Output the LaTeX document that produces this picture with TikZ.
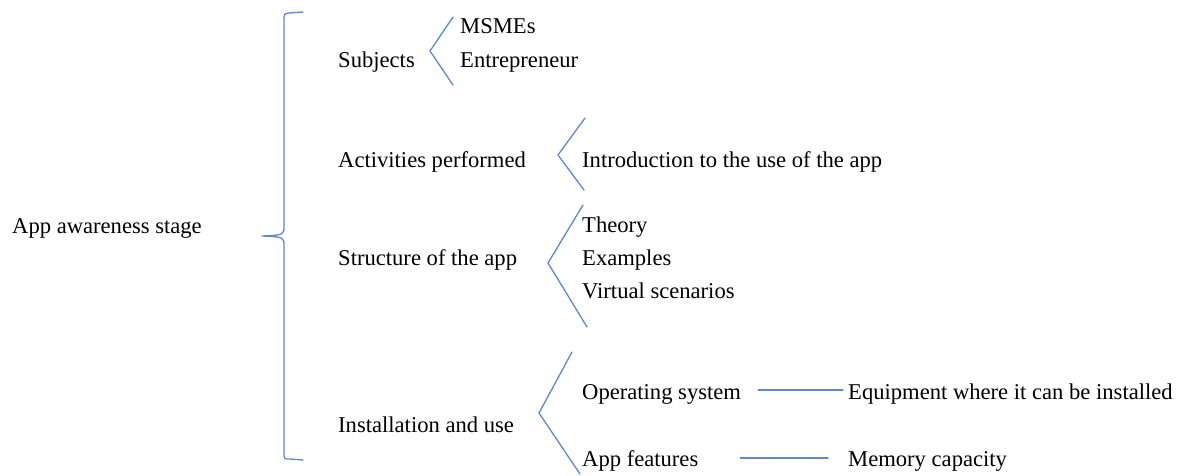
\documentclass[tikz,border=0pt]{standalone}
\usepackage{fontspec}
\setmainfont{Liberation Serif}
\usetikzlibrary{positioning}
\definecolor{bracketblue}{RGB}{96,134,204}
\tikzset{
  lbl/.style={anchor=base west,inner sep=0pt,font=\fontsize{22.6}{26}\selectfont},
  brk/.style={draw=bracketblue,line width=1.3pt,line join=round,line cap=round}
}

\begin{document}
\begin{tikzpicture}[x=1pt,y=-1pt]
\useasboundingbox (0,0) rectangle (1181,475);
% root and the big brace
\node[lbl] (root) at (12,233) {App awareness stage};
\coordinate (bt) at (303,12);
\coordinate (bm) at (262,236);
\coordinate (bb) at (303,460);
\draw[brk] (bt) -- (289,13) .. controls (284,14) .. (284,20) -- (284,226)
  .. controls (284,235) .. (bm) .. controls (284,237) .. (284,246) -- (284,452)
  .. controls (284,459) .. (290,459) -- (bb);
% first level
\node[lbl] (subj) at (338,67) {Subjects};
\node[lbl] (act) at (338,167) {Activities performed};
\node[lbl] (struct) at (338,265) {Structure of the app};
\node[lbl] (inst) at (338,432) {Installation and use};
% subjects
\node[lbl] (msme) at (460,33) {MSMEs};
\node[lbl] (entr) at (460,67) {Entrepreneur};
\coordinate (s1) at (453,17); \coordinate (s2) at (430,51); \coordinate (s3) at (453,85);
\draw[brk] (s1) -- (s2) -- (s3);
% activities
\node[lbl] (intro) at (582,167) {Introduction to the use of the app};
\coordinate (a1) at (585,118); \coordinate (a2) at (558,155); \coordinate (a3) at (584,190);
\draw[brk] (a1) -- (a2) -- (a3);
% structure
\node[lbl] (theo) at (582,232) {Theory};
\node[lbl] (exam) at (582,265) {Examples};
\node[lbl] (virt) at (582,298) {Virtual scenarios};
\coordinate (t1) at (583,205); \coordinate (t2) at (548,263); \coordinate (t3) at (587,327);
\draw[brk] (t1) -- (t2) -- (t3);
% installation
\node[lbl] (opsys) at (582,399) {Operating system};
\node[lbl] (feat) at (582,466) {App features};
\coordinate (i1) at (572,352); \coordinate (i2) at (539,413); \coordinate (i3) at (580,474);
\draw[brk] (i1) -- (i2) -- (i3);
\node[lbl] (equip) at (848,399) {Equipment where it can be installed};
\node[lbl] (mem) at (848,466) {Memory capacity};
\draw[brk,shorten <=17pt,shorten >=5pt] (opsys.east |- 0,390) -- (equip.west |- 0,390);
\draw[brk,shorten <=42pt,shorten >=20pt] (feat.east |- 0,458) -- (mem.west |- 0,458);
\end{tikzpicture}
\end{document}
